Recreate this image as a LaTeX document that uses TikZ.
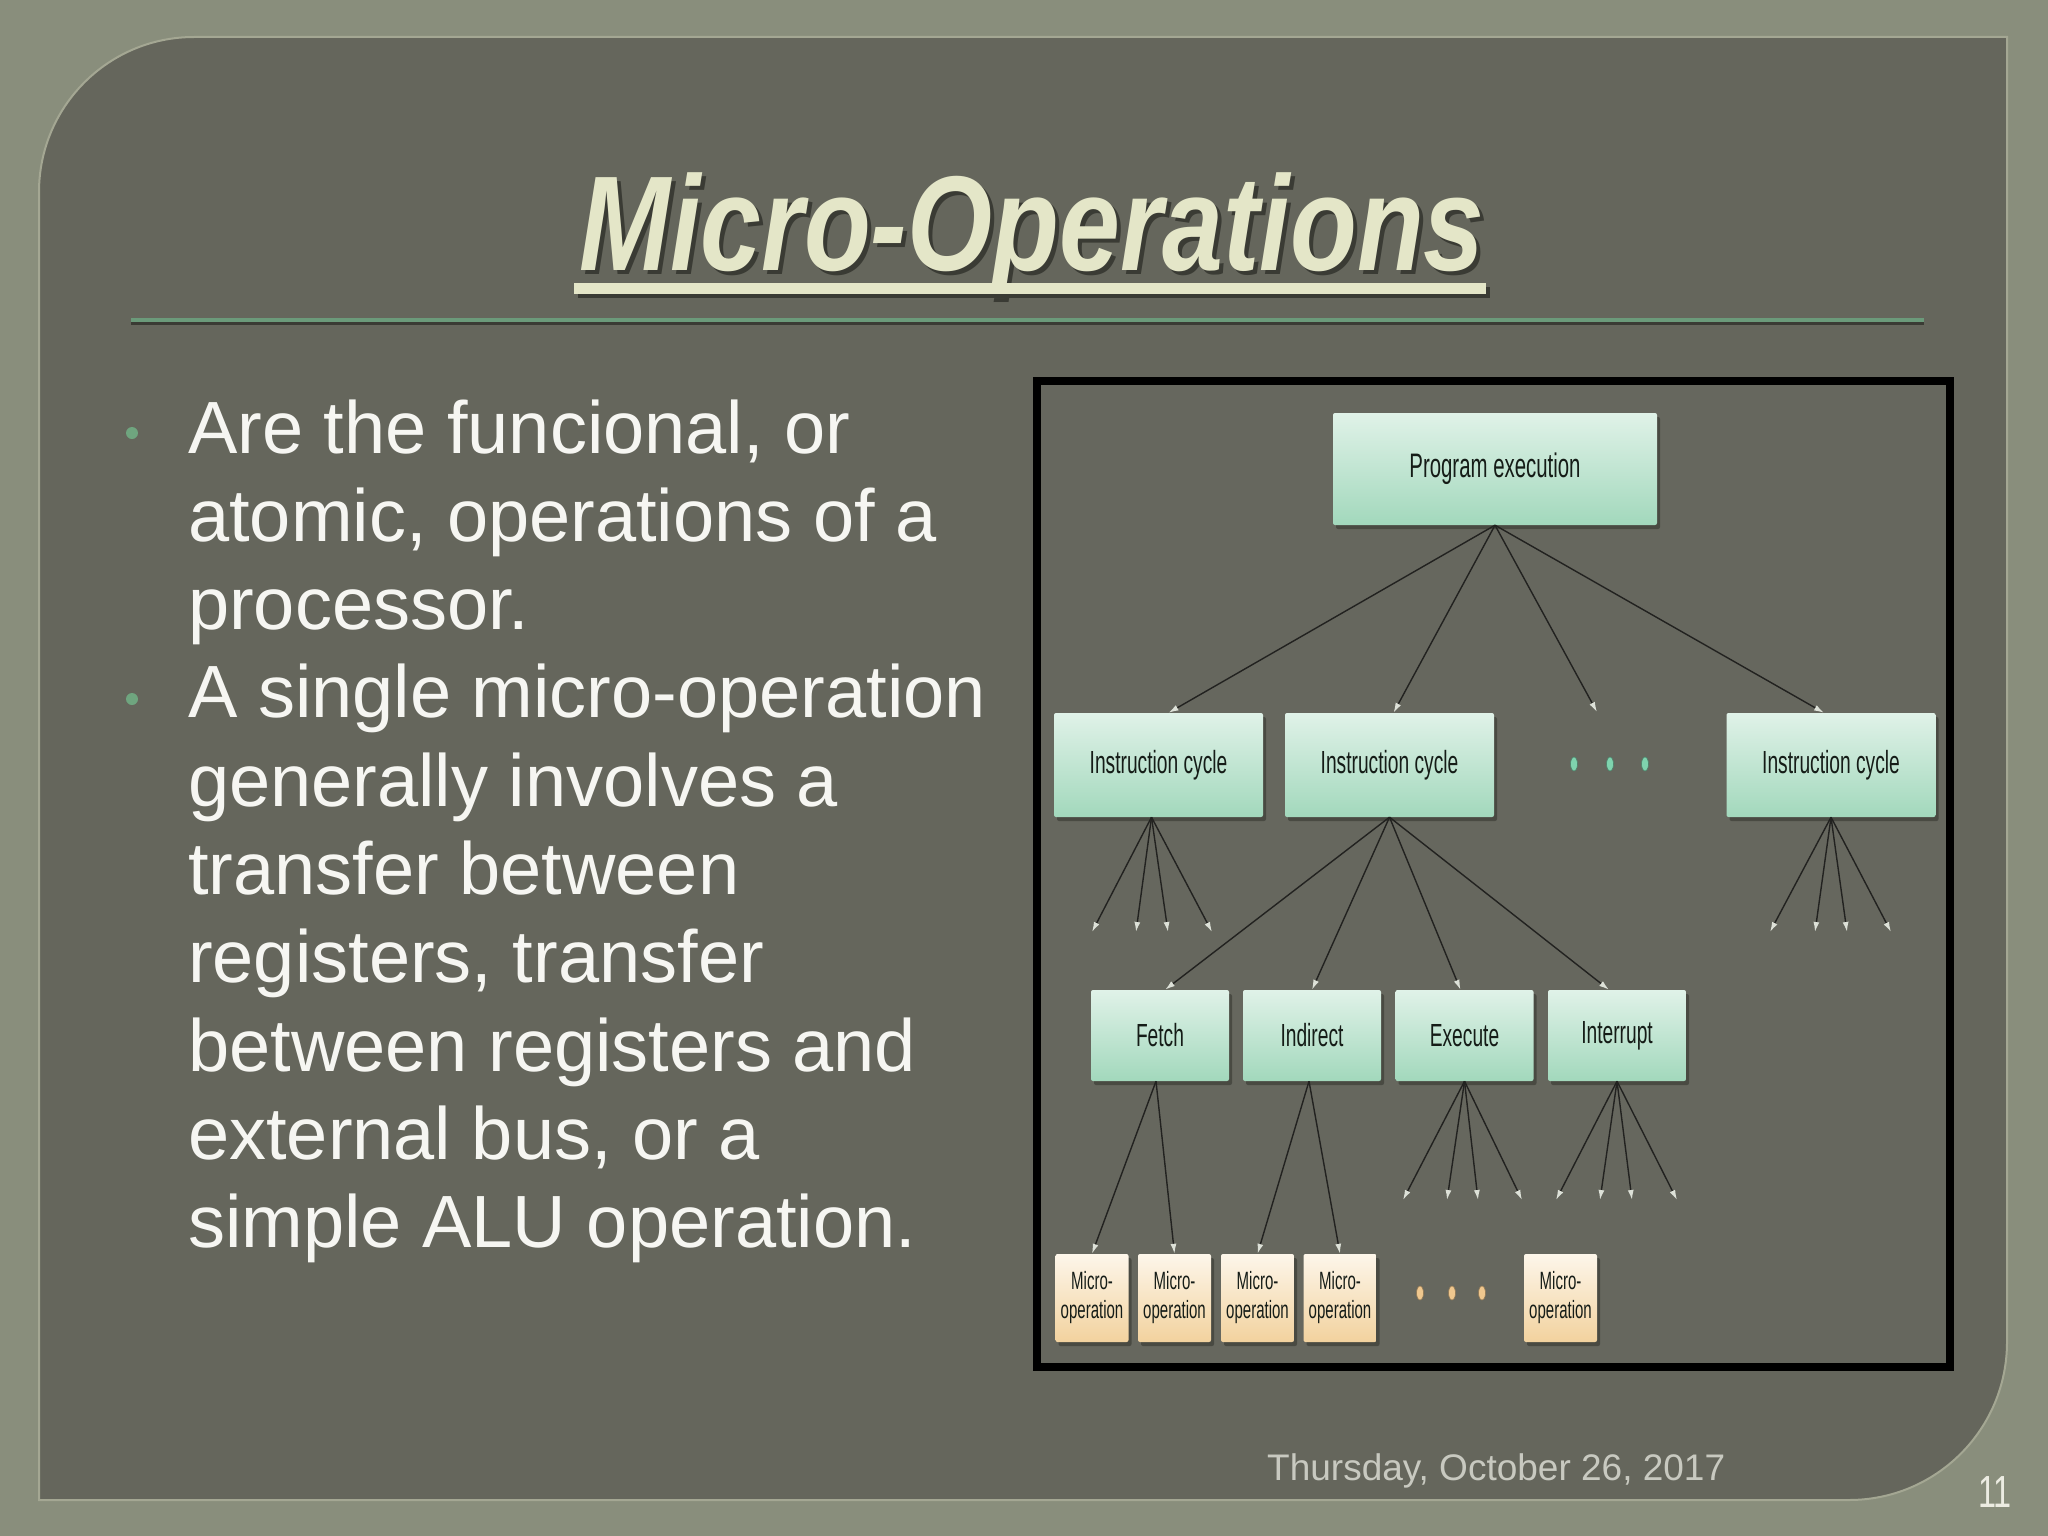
\documentclass[tikz,border=0pt]{standalone}
\usepackage{fontspec}
\setmainfont{Liberation Sans}
\newfontfamily\titlefont[FakeStretch=0.81]{Liberation Sans}
\newfontfamily\dfont[FakeStretch=0.6]{Liberation Sans}
\newfontfamily\numfont[FakeStretch=0.72]{Liberation Sans}
\usetikzlibrary{shadows,arrows.meta,shapes.geometric}
\definecolor{bgout}{HTML}{898E7C}
\definecolor{panelc}{HTML}{65665C}
\definecolor{paneledge}{HTML}{A4A793}
\definecolor{framein}{HTML}{66675E}
\definecolor{cream}{HTML}{E4E6C8}
\definecolor{tshadow}{HTML}{3A3B34}
\definecolor{rulegreen}{HTML}{6B9A7A}
\definecolor{bodytext}{HTML}{F6F6F2}
\definecolor{bulletc}{HTML}{6FA57F}
\definecolor{datec}{HTML}{C8C9C0}
\definecolor{numc}{HTML}{ECECE2}
\definecolor{mintT}{HTML}{E0F2E8}
\definecolor{mintB}{HTML}{A2D8BC}
\definecolor{peachT}{HTML}{FDF6EA}
\definecolor{peachB}{HTML}{F2D29E}
\definecolor{dtext}{HTML}{151C17}
\definecolor{linec}{HTML}{222220}
\definecolor{tipc}{HTML}{DDE1D8}
\definecolor{shad}{HTML}{44453E}
\definecolor{tealdotc}{HTML}{7FD3AE}
\definecolor{orangedotc}{HTML}{EFC78E}
\tikzset{
  boxbase/.style={rectangle, rounded corners=2pt, inner sep=0pt, text=dtext,
    drop shadow={shadow xshift=3pt, shadow yshift=-4pt, fill=shad, opacity=0.85}},
  mintbox/.style={boxbase, top color=mintT, bottom color=mintB},
  peachbox/.style={boxbase, top color=peachT, bottom color=peachB, align=center,
    minimum width=73pt, minimum height=88pt,
    font=\dfont\fontsize{25}{29}\selectfont},
  pebox/.style={mintbox, minimum width=324pt, minimum height=112pt,
    font=\dfont\fontsize{34}{38}\selectfont},
  icbox/.style={mintbox, minimum width=209pt, minimum height=104pt,
    font=\dfont\fontsize{32}{36}\selectfont},
  phbox/.style={mintbox, minimum width=138pt, minimum height=91pt,
    font=\dfont\fontsize{32}{36}\selectfont},
  arr/.style={draw=linec, line width=1.4pt, -{Latex[length=10pt,width=6pt,color=tipc]}},
  bodyline/.style={anchor=base west, inner sep=0pt, text=bodytext,
    font=\fontsize{74}{88}\selectfont},
  bulletdot/.style={circle, fill=bulletc, inner sep=0pt, minimum size=12pt},
  tealdot/.style={ellipse, fill=tealdotc, draw=tealdotc!60!black, line width=0.6pt,
    inner sep=0pt, minimum width=7pt, minimum height=14pt},
  orangedot/.style={ellipse, fill=orangedotc, draw=orangedotc!60!black, line width=0.6pt,
    inner sep=0pt, minimum width=7pt, minimum height=14pt},
}
\begin{document}
\begin{tikzpicture}[x=1pt,y=-1pt]
\useasboundingbox (0,0) rectangle (2048,1536);
% background
\fill[bgout] (0,0) rectangle (2048,1536);
% panel
\filldraw[fill=panelc, draw=paneledge, line width=2pt]
  (39,192) .. controls (39,106.4) and (108.4,37) .. (194,37)
  -- (2007,37) -- (2007,1342)
  .. controls (2007,1429.3) and (1936.3,1500) .. (1849,1500)
  -- (39,1500) -- cycle;
% title
\node[anchor=base, inner sep=0pt, text=tshadow, font=\titlefont\bfseries\itshape\fontsize{135}{140}\selectfont]
  (titleshadow) at (1036,274) {Micro-Operations};
\node[anchor=base, inner sep=0pt, text=cream, font=\titlefont\bfseries\itshape\fontsize{135}{140}\selectfont]
  (title) at (1032,270) {Micro-Operations};
\fill[tshadow] (578,287) rectangle (1490,298);
\fill[cream] (574,283) rectangle (1486,294);
% green rule
\draw[tshadow, line width=3pt] (131,323) -- (1924,323);
\draw[rulegreen, line width=3.5pt] (131,320) -- (1924,320);
% bullets and body text
\node[bulletdot] (b1) at (132,433) {};
\node[bulletdot] (b2) at (132,699) {};
\node[bodyline] (l1) at (188,453) {Are the funcional, or};
\node[bodyline] (l2) at (188,541.3) {atomic, operations of a};
\node[bodyline] (l3) at (188,629.6) {processor.};
\node[bodyline] (l4) at (188,717.9) {A single micro-operation};
\node[bodyline] (l5) at (188,806.2) {generally involves a};
\node[bodyline] (l6) at (188,894.5) {transfer between};
\node[bodyline] (l7) at (188,982.8) {registers, transfer};
\node[bodyline] (l8) at (188,1071.1) {between registers and};
\node[bodyline] (l9) at (188,1159.4) {external bus, or a};
\node[bodyline] (l10) at (188,1247.7) {simple ALU operation.};
% footer
\node[anchor=base west, inner sep=0pt, text=datec, font=\fontsize{37}{42}\selectfont]
  (date) at (1267,1480) {Thursday, October 26, 2017};
\node[anchor=base east, inner sep=0pt, text=numc, font=\numfont\fontsize{45}{50}\selectfont]
  (pagenum) at (2012,1507) {11};
% diagram frame
\fill[framein] (1037,381) rectangle (1950,1367);
\draw[black, line width=8pt] (1037,381) rectangle (1950,1367);
% level 0
\node[pebox] (pe) at (1495,469) {Program execution};
% level 1
\node[icbox] (ic1) at (1158.5,765) {Instruction cycle};
\node[icbox] (ic2) at (1389.5,765) {Instruction cycle};
\node[icbox] (ic3) at (1831,765) {Instruction cycle};
\node[tealdot] (td1) at (1574,764) {};
\node[tealdot] (td2) at (1610,764) {};
\node[tealdot] (td3) at (1645,764) {};
\coordinate (tdend) at (1597,712);
% level 2
\node[phbox] (fetch) at (1160,1035.5) {Fetch};
\node[phbox] (indirect) at (1312,1035.5) {Indirect};
\node[phbox] (execute) at (1464.5,1035.5) {Execute};
\node[phbox] (interrupt) at (1617,1035.5) {Interrupt};
% level 3
\node[peachbox] (m1) at (1092,1298) {Micro-\\operation};
\node[peachbox] (m2) at (1174.5,1298) {Micro-\\operation};
\node[peachbox] (m3) at (1257.5,1298) {Micro-\\operation};
\node[peachbox] (m4) at (1340,1298) {Micro-\\operation};
\node[peachbox] (m5) at (1560.5,1298) {Micro-\\operation};
\node[orangedot] (od1) at (1420,1293) {};
\node[orangedot] (od2) at (1452,1293) {};
\node[orangedot] (od3) at (1482,1293) {};
% fan end points
\coordinate (a1) at (1092,932);
\coordinate (a2) at (1136,932);
\coordinate (a3) at (1168,932);
\coordinate (a4) at (1212,932);
\coordinate (c1) at (1770,932);
\coordinate (c2) at (1815,932);
\coordinate (c3) at (1847,932);
\coordinate (c4) at (1891,932);
\coordinate (e1) at (1403,1200);
\coordinate (e2) at (1447,1200);
\coordinate (e3) at (1478,1200);
\coordinate (e4) at (1522,1200);
\coordinate (i1) at (1556,1200);
\coordinate (i2) at (1600,1200);
\coordinate (i3) at (1632,1200);
\coordinate (i4) at (1677,1200);
% connectors
\draw[arr] (pe.south) -- ([xshift=10pt]ic1.north);
\draw[arr] (pe.south) -- ([xshift=4pt]ic2.north);
\draw[arr] (pe.south) -- (tdend);
\draw[arr] (pe.south) -- ([xshift=-7pt]ic3.north);
\foreach \p in {a1,a2,a3,a4} \draw[arr] ([xshift=-7pt]ic1.south) -- (\p);
\foreach \p in {c1,c2,c3,c4} \draw[arr] (ic3.south) -- (\p);
\draw[arr] (ic2.south) -- ([xshift=5pt]fetch.north);
\draw[arr] (ic2.south) -- (indirect.north);
\draw[arr] (ic2.south) -- ([xshift=-4pt]execute.north);
\draw[arr] (ic2.south) -- ([xshift=-8pt]interrupt.north);
\foreach \p in {e1,e2,e3,e4} \draw[arr] (execute.south) -- (\p);
\foreach \p in {i1,i2,i3,i4} \draw[arr] (interrupt.south) -- (\p);
\draw[arr] ([xshift=-4pt]fetch.south) -- (m1.north);
\draw[arr] ([xshift=-4pt]fetch.south) -- (m2.north);
\draw[arr] ([xshift=-3pt]indirect.south) -- (m3.north);
\draw[arr] ([xshift=-3pt]indirect.south) -- (m4.north);
\end{tikzpicture}
\end{document}
